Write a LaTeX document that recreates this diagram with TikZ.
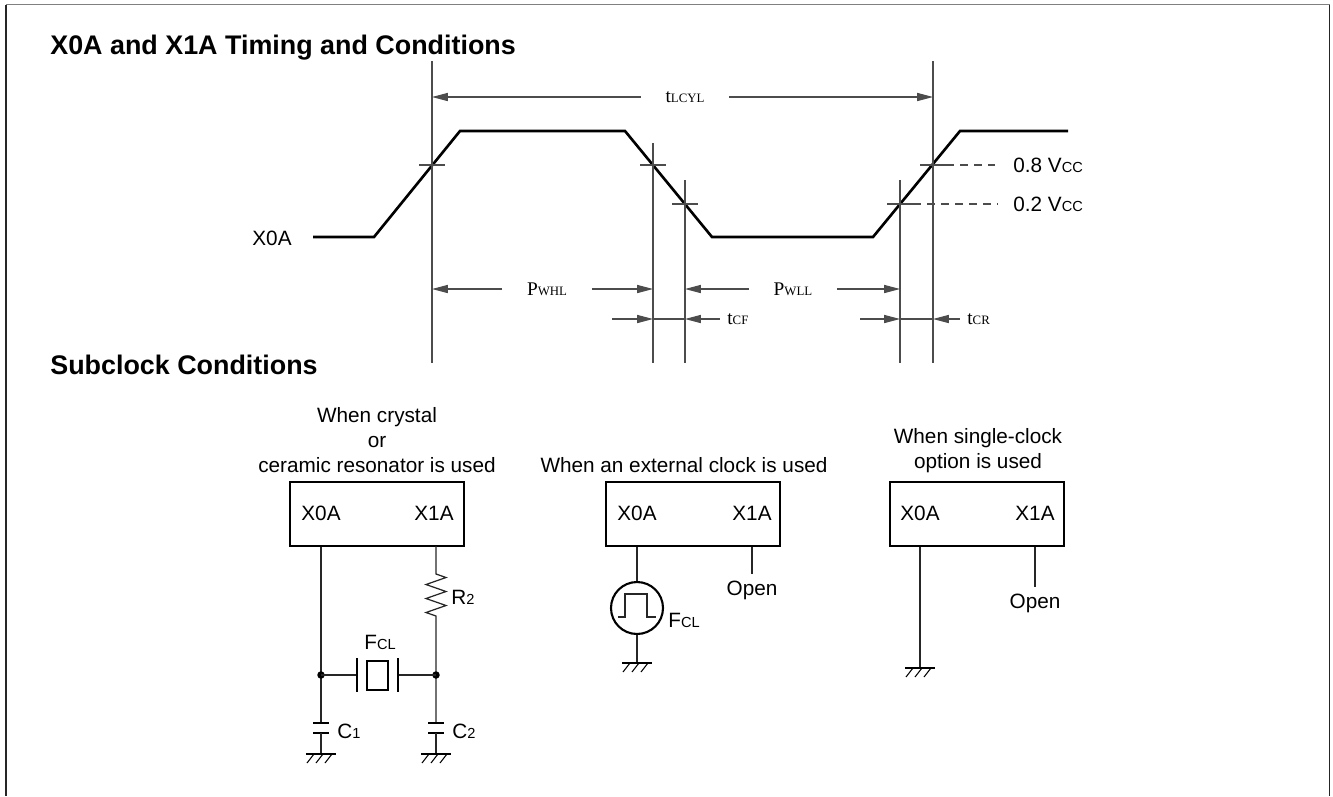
\documentclass[tikz,border=0pt]{standalone}
\usepackage{fontspec}
\setmainfont{Liberation Sans}
\newfontfamily\serifx{Liberation Serif}
\usetikzlibrary{arrows.meta,positioning}

\newcommand\smallcap[1]{{\fontsize{8.3}{9}\selectfont #1}}
\newcommand\tinycap[1]{{\fontsize{7.3}{8}\selectfont #1}}

\tikzset{
  wire/.style={line width=0.7pt, black!85},
  guide/.style={line width=0.6pt, black!70},
  wave/.style={line width=1.5pt},
  plate/.style={line width=1.4pt},
  chip/.style={draw, line width=1.4pt, minimum width=3.48cm, minimum height=1.28cm, inner sep=0pt},
  dim/.style={guide, -{Triangle[length=9pt,width=4.6pt]}},
  lbl/.style={font=\fontsize{11.8}{14.2}\selectfont, inner sep=0pt, align=center},
  dimlbl/.style={font=\serifx\fontsize{11}{13}\selectfont, inner xsep=14pt, inner ysep=0pt},
  head/.style={font=\bfseries\fontsize{15.3}{18}\selectfont, anchor=base west, inner sep=0pt},
  earth/.pic={
    \draw[line width=1.3pt] (-15,0) -- (15,0);
    \foreach \k in {-14,-5,4}
      \draw[line width=0.6pt] (\k,9) -- (\k+7,0);
  },
}

\begin{document}
\begin{tikzpicture}[x=0.02cm, y=-0.02cm]
\useasboundingbox (0,0) rectangle (1333,796);
% frame
\draw[line width=1pt, black!50] (6,4.5) -- (1329.5,4.5);
\draw[line width=1pt, black!85] (6,4.5) -- (6,796) (1329.5,4.5) -- (1329.5,796);

% headings
\node[head] (ttltiming) at (50,54) {X0A and X1A Timing and Conditions};
\node[head] (ttlsub) at (50,374) {Subclock Conditions};

% waveform
\node[lbl] (wavename) at (272,238) {X0A};
\draw[wave] (313,237) -- (374,237) -- (460,131) -- (625,131) -- (712,237) -- (873,237) -- (960,131) -- (1068,131);

% guide lines and crossing marks
\foreach \x/\y/\t in {432/165/61, 653/165/143, 685/204/180, 900/204/180, 933/165/61} {
  \draw[guide] (\x,\t) -- (\x,363);
  \draw[guide] (\x-13,\y) -- (\x+13,\y);
}
\draw[guide, dash pattern=on 4.5pt off 3.5pt] (946,165) -- (995,165);
\draw[guide, dash pattern=on 4.5pt off 3.5pt] (913,204) -- (998,204);
\node[lbl, anchor=west] (vhi) at (1013,165) {0.8 V\smallcap{CC}};
\node[lbl, anchor=west] (vlo) at (1013,204) {0.2 V\smallcap{CC}};

% timing values
\node[dimlbl] (tlcyl) at (685,97) {t\tinycap{LCYL}};
\draw[dim] (tlcyl.west) -- (432,97);
\draw[dim] (tlcyl.east) -- (933,97);
\node[dimlbl] (pwhl) at (547,289) {P\tinycap{WHL}};
\draw[dim] (pwhl.west) -- (432,289);
\draw[dim] (pwhl.east) -- (653,289);
\node[dimlbl] (pwll) at (793,289) {P\tinycap{WLL}};
\draw[dim] (pwll.west) -- (685,289);
\draw[dim] (pwll.east) -- (900,289);
\node[dimlbl, anchor=west, inner xsep=0pt] (tcf) at (727,319) {t\tinycap{CF}};
\draw[dim] (612,319) -- (653,319);
\draw[guide] (653,319) -- (685,319);
\draw[dim] ([xshift=-4pt]tcf.west) -- (685,319);
\node[dimlbl, anchor=west, inner xsep=0pt] (tcr) at (967,319) {t\tinycap{CR}};
\draw[dim] (860,319) -- (900,319);
\draw[guide] (900,319) -- (933,319);
\draw[dim] ([xshift=-4pt]tcr.west) -- (933,319);

% crystal or ceramic resonator
\node[lbl] (capA) at (377,440) {When crystal\\or\\ceramic resonator is used};
\node[chip] (chipA) at (377,514) {};
\node[lbl] (xa0) at (321,513) {X0A};
\node[lbl] (xa1) at (434,513) {X1A};
\coordinate (ja) at (321,675);
\coordinate (jb) at (436,675);
\draw[wire] (xa0 |- chipA.south) -- (ja) -- (321,723);
\draw[wire] (436,546) -- (436,574) -- ++(10,3.5) -- ++(-20,7) -- ++(20,7) -- ++(-20,7)
  -- ++(20,7) -- ++(-20,7) -- ++(10,3.5) -- (436,619) -- (jb) -- (436,723);
\node[lbl, anchor=west] (rtwo) at (451,597) {R\smallcap{2}};
\fill (ja) circle (0.075cm);
\fill (jb) circle (0.075cm);
\node[lbl] (fcla) at (380,642) {F\smallcap{CL}};
\draw[wire] (ja) -- (357,675);
\draw[wire] (398,675) -- (jb);
\draw[plate] (357,658) -- (357,692) (398,658) -- (398,692);
\draw[line width=1.2pt] (367,661) rectangle (388,690);
\foreach \x/\n in {321/1,436/2} {
  \draw[plate] (\x-8,723) -- (\x+8,723) (\x-8,733) -- (\x+8,733);
  \draw[wire] (\x,733) -- (\x,754);
  \pic at (\x,754) {earth};
  \node[lbl, anchor=west] (ccap\n) at (\x+16,731) {C\smallcap{\n}};
}

% external clock
\node[lbl] (capB) at (684,465) {When an external clock is used};
\node[chip] (chipB) at (693,514) {};
\node[lbl] (xb0) at (637,513) {X0A};
\node[lbl] (xb1) at (752,513) {X1A};
\node[circle, draw, line width=1.2pt, minimum size=1.04cm, inner sep=0pt] (osc) at (637,608) {};
\draw[wire] (xb0 |- chipB.south) -- (osc.north);
\draw[wire] (osc.south) -- (637,663);
\pic at (637,663) {earth};
\draw[wire] (618,617) -- (625,617) -- (625,594) -- (647,594) -- (647,617) -- (656,617);
\node[lbl, anchor=west] (fclb) at (668,620) {F\smallcap{CL}};
\node[lbl, inner ysep=3.5pt] (openb) at (752,590) {Open};
\draw[wire] (xb1 |- chipB.south) -- (openb.north);

% single clock option
\node[lbl] (capC) at (978,451) {When single-clock\\option is used};
\node[chip] (chipC) at (977,514) {};
\node[lbl] (xc0) at (920,513) {X0A};
\node[lbl] (xc1) at (1035,513) {X1A};
\draw[wire] (xc0 |- chipC.south) -- (920,668);
\pic at (920,668) {earth};
\node[lbl, inner ysep=3.5pt] (openc) at (1035,603) {Open};
\draw[wire] (xc1 |- chipC.south) -- (openc.north);
\end{tikzpicture}
\end{document}
